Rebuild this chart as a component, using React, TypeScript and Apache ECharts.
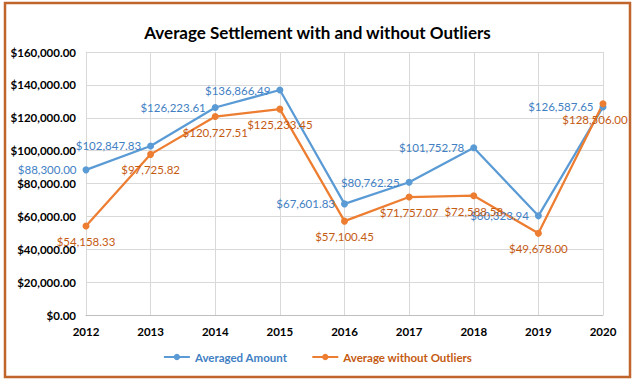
import React, { useEffect, useRef } from "react";
import * as echarts from "echarts";

const years = ["2012", "2013", "2014", "2015", "2016", "2017", "2018", "2019", "2020"];
const averagedAmount = [88300.0, 102847.83, 126223.61, 136866.49, 67601.83, 80762.25, 101752.78, 60323.94, 126587.65];
const averageWithoutOutliers = [54158.33, 97725.82, 120727.51, 125233.45, 57100.45, 71757.07, 72588.58, 49678.0, 128506.0];
const seriesNames = ["Averaged Amount", "Average without Outliers"];
const titleText = "Average Settlement with and without Outliers";

const FONT = "Lato, 'Noto Sans', sans-serif";
const BLUE = "#5B9BD5";
const ORANGE = "#ED7D31";
const BLUE_TEXT = "#4280C4";
const ORANGE_TEXT = "#C55A11";

const money = (v: number) =>
  "$" + v.toLocaleString("en-US", { minimumFractionDigits: 2, maximumFractionDigits: 2 });

export default function App() {
  const ref = useRef<HTMLDivElement>(null);
  useEffect(() => {
    document.body.style.margin = "0";
    const chart = echarts.init(ref.current!, null, { renderer: "svg" });
    const lastIdx = averageWithoutOutliers.length - 1;
    chart.setOption({
      animation: false,
      backgroundColor: "#FFFFFF",
      textStyle: { fontFamily: FONT },
      title: {
        text: titleText,
        left: "center",
        top: 19,
        textStyle: { fontFamily: FONT, fontSize: 17, fontWeight: "bold", color: "#000000" },
      },
      graphic: [
        {
          type: "rect",
          shape: { x: 5, y: 3, width: 625, height: 374 },
          style: { fill: "none", stroke: "#C0662C", lineWidth: 2.5 },
          silent: true,
        },
      ],
      legend: {
        bottom: 13,
        left: "center",
        itemWidth: 26,
        itemHeight: 8,
        itemGap: 24,
        textStyle: { fontFamily: FONT, fontSize: 11.5, fontWeight: "bold" },
        data: [
          { name: seriesNames[0], textStyle: { color: BLUE_TEXT } },
          { name: seriesNames[1], textStyle: { color: ORANGE_TEXT } },
        ],
      },
      grid: { left: 86, right: 32, top: 52, bottom: 66 },
      xAxis: {
        type: "category",
        data: years,
        boundaryGap: false,
        axisTick: { show: false },
        axisLine: { lineStyle: { color: "#BFBFBF", width: 1 } },
        splitLine: { show: true, lineStyle: { color: "#D9D9D9", width: 1 } },
        axisLabel: { color: "#000000", fontFamily: FONT, fontSize: 11.5, fontWeight: "bold", margin: 10 },
      },
      yAxis: {
        type: "value",
        min: 0,
        max: 160000,
        interval: 20000,
        axisLine: { show: true, lineStyle: { color: "#D9D9D9", width: 1 } },
        axisTick: { show: false },
        splitLine: { lineStyle: { color: "#D9D9D9", width: 1 } },
        axisLabel: {
          color: "#000000",
          fontFamily: FONT,
          fontSize: 11.5,
          fontWeight: "bold",
          margin: 10,
          formatter: (v: number) => money(v),
        },
      },
      series: [
        {
          name: seriesNames[0],
          type: "line",
          data: averagedAmount,
          color: BLUE,
          symbol: "circle",
          symbolSize: 7,
          lineStyle: { width: 2.25, color: BLUE },
          itemStyle: { color: BLUE },
          label: {
            show: true,
            position: "left",
            distance: 6,
            color: BLUE_TEXT,
            fontFamily: FONT,
            fontSize: 11.5,
            formatter: (p: any) => money(p.value),
          },
        },
        {
          name: seriesNames[1],
          type: "line",
          data: averageWithoutOutliers.map((v, i) =>
            i === lastIdx ? { value: v, label: { offset: [-8, 0] } } : v
          ),
          color: ORANGE,
          symbol: "circle",
          symbolSize: 7,
          lineStyle: { width: 2.25, color: ORANGE },
          itemStyle: { color: ORANGE },
          label: {
            show: true,
            position: "bottom",
            distance: 6,
            color: ORANGE_TEXT,
            fontFamily: FONT,
            fontSize: 11.5,
            formatter: (p: any) => money(p.value),
          },
        },
      ],
    });
    return () => chart.dispose();
  }, []);
  return (
    <div
      ref={ref}
      style={{ position: "absolute", left: 0, top: 0, width: 635, height: 381 }}
    />
  );
}
